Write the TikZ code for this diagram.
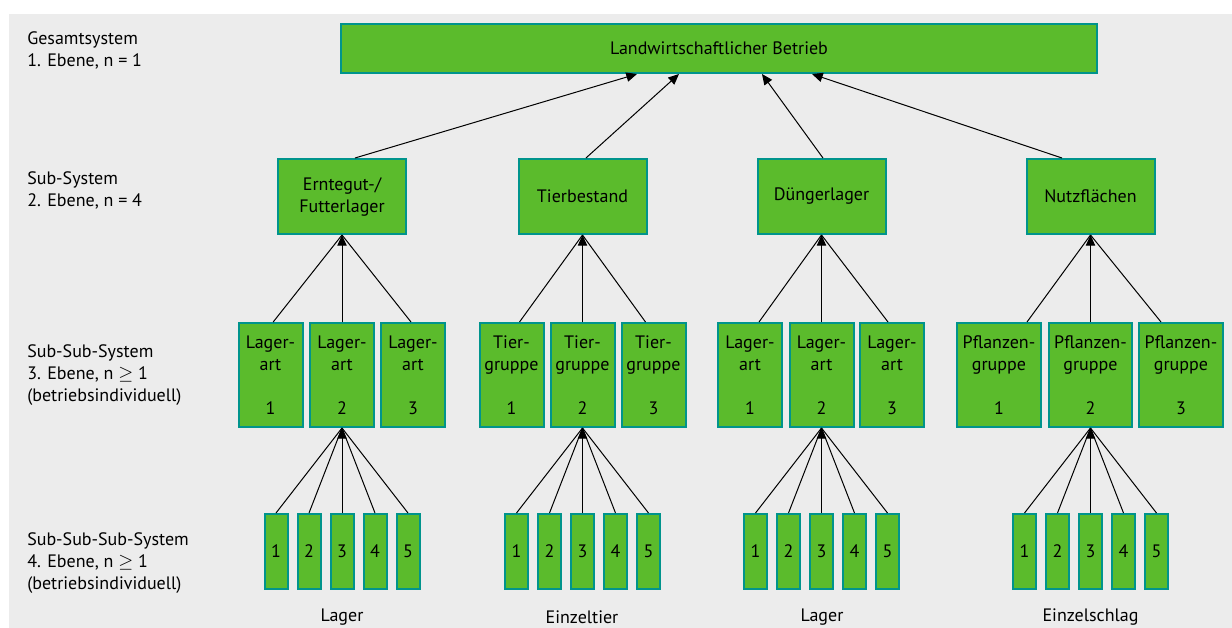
\documentclass[tikz,border=0pt]{standalone}
\usepackage{fontspec}
\setmainfont{PT Sans}
\usetikzlibrary{arrows.meta,positioning,calc}
\definecolor{feldgruen}{RGB}{91,187,44}
\definecolor{rahmen}{RGB}{0,148,140}
\definecolor{hgrund}{RGB}{236,236,236}

\begin{document}
\begin{tikzpicture}[x=0.75pt, y=-0.75pt, font=\fontsize{13.5}{16.5}\selectfont,
    box/.style={draw=rahmen, fill=feldgruen, line width=1.5pt, inner sep=0pt, align=center},
    top box/.style={box, minimum width=567pt, minimum height=36.75pt},
    sub box/.style={box, minimum width=96pt, minimum height=56.25pt},
    group box/.style={box, minimum width=48pt, minimum height=78pt},
    wide group box/.style={group box, minimum width=62.5pt},
    unit box/.style={box, minimum width=17.25pt, minimum height=56.25pt},
    level text/.style={anchor=base west, align=left, inner sep=0pt},
    link/.style={line width=0.75pt},
    up/.style={link, -{Triangle[length=8pt,width=7pt]}}]
    \useasboundingbox (0,0) rectangle (1232,628);
    \fill[hgrund] (9,14) rectangle (1232,628);

    % Ebenen links (base = letzte Zeile)
    \node[level text] (ebene1) at (27,66) {Gesamtsystem\\1. Ebene, n = 1};
    \node[level text] (ebene2) at (27,206) {Sub-System\\2. Ebene, n = 4};
    \node[level text] (ebene3) at (27,401) {Sub-Sub-System\\3. Ebene, n $\geq$ 1\\(betriebsindividuell)};
    \node[level text] (ebene4) at (27,589) {Sub-Sub-Sub-System\\4. Ebene, n $\geq$ 1\\(betriebsindividuell)};

    % Betrieb und Sub-Systeme
    \node[top box] (betrieb) at (719,48.5) {Landwirtschaftlicher Betrieb};
    \node[sub box] (ernte) at (342,196.5) {Erntegut-/\\Futterlager};
    \node[sub box] (tier) at (582.5,196.5) {Tierbestand};
    \node[sub box] (duenger) at (821.5,196.5) {Düngerlager};
    \node[sub box] (nutz) at (1090.5,196.5) {Nutzflächen};

    \draw[up] ([xshift=9.75pt]ernte.north) -- ([xshift=-61.5pt]betrieb.south);
    \draw[up] ([xshift=2.6pt]tier.north) -- ([xshift=-30pt]betrieb.south);
    \draw[up] ([xshift=1.1pt]duenger.north) -- ([xshift=32.25pt]betrieb.south);
    \draw[up] ([xshift=-21.4pt]nutz.north) -- ([xshift=69.75pt]betrieb.south);

    % Sub-Sub-Systeme
    \foreach \i/\x in {1/270.5, 2/342, 3/413}
        \node[group box] (ernte\i) at (\x,375) {Lager-\\art\\[16.5pt]\i};
    \foreach \i/\x in {1/511.5, 2/582.5, 3/653.5}
        \node[group box] (tier\i) at (\x,375) {Tier-\\gruppe\\[16.5pt]\i};
    \foreach \i/\x in {1/750, 2/821.5, 3/892}
        \node[group box] (duenger\i) at (\x,375) {Lager-\\art\\[16.5pt]\i};
    \foreach \i/\x in {1/999, 2/1090.5, 3/1181}
        \node[wide group box] (nutz\i) at (\x,375) {Pflanzen-\\gruppe\\[16.5pt]\i};

    \foreach \p/\a/\b in {ernte/2/-1.5, tier/6/-6, duenger/6.75/-3, nutz/21/-15} {
        \draw[link] ([xshift=\a pt]\p1.north) -- (\p.south);
        \draw[link] ([xshift=\b pt]\p3.north) -- (\p.south);
        \draw[up] (\p2.north) -- (\p.south);
    }

    % Sub-Sub-Sub-Systeme
    \foreach \p/\c in {ernte/342, tier/582.5, duenger/821.5, nutz/1090.5} {
        \foreach \i in {1,...,5}
            \node[unit box] (\p-u\i) at ({\c+(\i-3)*33},551.5) {\i};
        \foreach \i in {1,2,4,5}
            \draw[link] (\p-u\i.north) -- (\p2.south);
        \draw[up] (\p-u3.north) -- (\p2.south);
    }

    \node[anchor=base] (lager-a) at (342,621) {Lager};
    \node[anchor=base] (einzeltier) at (582,623) {Einzeltier};
    \node[anchor=base] (lager-b) at (822,621) {Lager};
    \node[anchor=base] (einzelschlag) at (1090.5,621) {Einzelschlag};
\end{tikzpicture}
\end{document}
